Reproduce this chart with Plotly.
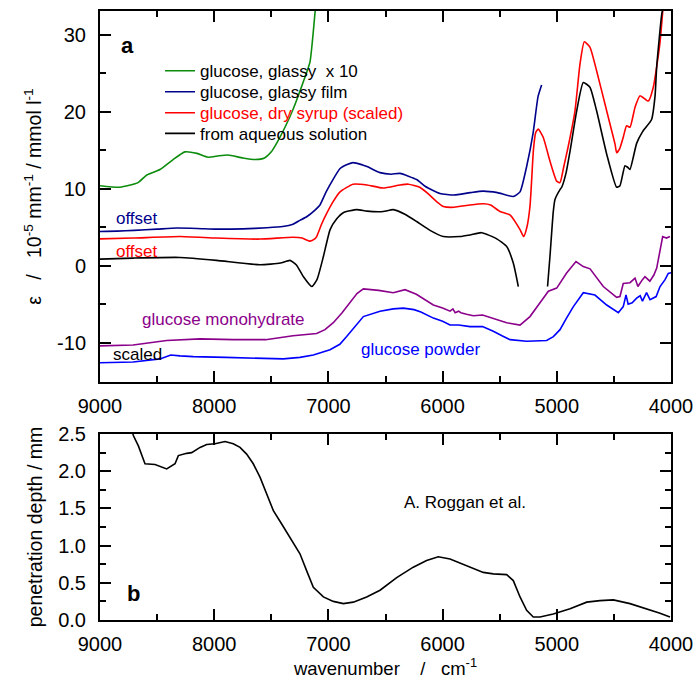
import plotly.graph_objects as go

# ---------------- data ----------------
green_w = [9000, 8825, 8667, 8590, 8475, 8360, 8256, 8151, 8054, 7960, 7879, 7748, 7640, 7560,
           7500, 7450, 7380, 7310, 7222, 7161, 7117, 7105]
green_y = [10.4, 10.2, 10.8, 11.8, 12.5, 13.8, 14.8, 14.6, 14.1, 14.3, 14.4, 14.0, 13.8, 14.0,
           14.8, 16.0, 18.0, 20.3, 23.8, 26.5, 32.9, 34.5]

navy_w = [9000, 8850, 8700, 8501, 8330, 8150, 7976, 7750, 7538, 7400, 7310, 7249, 7187, 7120,
          7074, 7020, 6960, 6900, 6872, 6785, 6700, 6662, 6548, 6450, 6373, 6227, 6150, 6023,
          5900, 5760, 5645, 5520, 5381, 5322, 5264, 5208, 5164, 5133]
navy_y = [4.46, 4.5, 4.6, 4.76, 4.9, 4.85, 4.76, 4.8, 4.94, 5.1, 5.4, 5.9, 6.4, 7.2,
          7.9, 9.6, 11.2, 12.6, 12.9, 13.4, 13.1, 12.9, 12.1, 11.9, 12.0, 11.2, 10.3, 9.4,
          9.2, 9.5, 9.7, 9.5, 9.0, 9.6, 12.9, 17.2, 22.0, 23.5]

red_w = [9000, 8710, 8300, 7980, 7599, 7310, 7230, 7161, 7120, 7103, 7060, 7015, 6960, 6898,
         6784, 6662, 6522, 6373, 6300, 6200, 6130, 6050, 5994, 5900, 5760, 5644, 5580, 5497,
         5410, 5322, 5290, 5262, 5235, 5220, 5205, 5185, 5162, 5119, 5060, 5001, 4972, 4940,
         4900, 4841, 4797, 4759, 4710, 4651, 4563, 4490, 4476, 4450, 4418, 4389, 4359, 4315,
         4271, 4199, 4155, 4098, 4070]
red_y = [3.5, 3.6, 3.8, 3.6, 3.47, 3.7, 3.6, 3.2, 3.5, 3.8, 5.4, 6.8, 8.3, 9.6,
         10.6, 10.5, 10.1, 10.5, 10.6, 10.2, 9.4, 8.3, 7.7, 7.6, 7.9, 8.05, 7.9, 7.05,
         6.6, 4.7, 3.8, 5.0, 7.7, 11.2, 15.0, 17.3, 17.75, 16.7, 13.6, 11.0, 10.8, 12.8,
         15.5, 20.1, 26.2, 29.1, 28.4, 25.3, 20.1, 15.8, 14.7, 15.2, 16.7, 18.2, 18.0, 20.6,
         22.1, 21.4, 23.2, 28.8, 33.5]

black_w = [9000, 8710, 8300, 7980, 7599, 7420, 7336, 7280, 7220, 7146, 7100, 7044, 6985, 6927,
           6870, 6752, 6662, 6520, 6432, 6330, 6227, 6110, 5994, 5848, 5760, 5658, 5526, 5439,
           5381, 5337, None, 5081, 5060, 5031, 5016, 4972, 4957, 4920, 4884, 4826, 4768, 4710,
           4651, 4563, 4476, 4447, 4403, 4380, 4360, 4301, 4250, 4170, 4140, 4125, 4080, 4060]
black_y = [0.87, 1.0, 1.08, 0.7, 0.13, 0.35, 0.7, 0.1, -1.4, -2.7, -1.8, 1.2, 4.7, 6.1,
           6.9, 7.3, 7.1, 7.05, 7.3, 6.7, 5.75, 4.6, 3.8, 3.8, 4.0, 4.3, 3.5, 2.5,
           0.35, -2.7, None, -2.7, 1.2, 7.0, 8.6, 9.9, 10.2, 12.0, 14.9, 20.1, 23.8, 23.2,
           20.1, 14.5, 10.2, 10.4, 13.0, 12.8, 12.5, 15.9, 17.4, 19.0, 22.0, 25.9, 32.8, 34.0]

purple_w = [9000, 8710, 8416, 8124, 7832, 7550, 7310, 7103, 7030, 6957, 6880, 6811, 6750, 6694,
            6560, 6432, 6329, 6230, 6150, 6081, 6000, 5935, 5910, 5890, 5860, 5840, 5790, 5731,
            5650, 5570, 5439, 5322, 5235, 5147, 5074, 5001, 4914, 4832, 4768, 4709, 4650, 4593,
            4476, 4447, 4418, 4359, 4315, 4290, 4250, 4228, 4185, 4150, 4125, 4095, 4073, 4040,
            4009]
purple_y = [-10.4, -10.3, -9.7, -9.5, -9.6, -9.6, -9.1, -8.8, -8.3, -7.4, -6.1, -4.8, -3.6, -3.0,
            -3.2, -3.5, -3.1, -3.7, -4.4, -5.1, -5.5, -5.9, -5.6, -6.1, -5.9, -6.1, -6.3, -6.5,
            -6.4, -6.8, -7.4, -7.7, -6.6, -4.8, -3.3, -2.9, -0.95, 0.56, -0.1, -0.4, -1.5, -2.7,
            -4.1, -4.0, -2.3, -2.2, -1.6, -2.7, -1.8, -1.4, -2.0, -1.2, -0.3, 2.0, 3.8, 3.6,
            3.8]

blue_w = [9000, 8710, 8475, 8380, 8300, 8183, 7900, 7640, 7395, 7250, 7132, 6986, 6900, 6840,
          6760, 6694, 6548, 6432, 6344, 6250, 6190, 6081, 6000, 5935, 5860, 5760, 5650, 5556,
          5480, 5410, 5264, 5089, 5030, 4972, 4915, 4855, 4768, 4666, 4563, 4461, 4418, 4394,
          4375, 4340, 4301, 4270, 4250, 4214, 4184, 4130, 4096, 4052, 4024, 4000]
blue_y = [-12.6, -12.5, -12.1, -11.6, -11.7, -11.8, -11.9, -12.0, -12.1, -11.9, -11.6, -10.9, -10.2, -9.2,
          -7.8, -6.6, -5.9, -5.6, -5.5, -5.7, -6.0, -6.8, -7.2, -7.7, -7.7, -7.9, -7.9, -8.5,
          -9.1, -9.6, -9.8, -9.7, -9.2, -8.3, -6.8, -5.3, -3.5, -3.8, -5.1, -6.1, -5.3, -3.8,
          -5.0, -4.8, -4.2, -3.9, -4.6, -3.5, -4.4, -4.0, -2.7, -1.8, -1.0, -0.9]

depth_w = [8730, 8708, 8664, 8606, 8518, 8416, 8343, 8314, 8241, 8197, 8124, 8066, 7993, 7905,
           7833, 7774, 7716, 7658, 7599, 7540, 7482, 7409, 7336, 7249, 7190, 7132, 7044, 6957,
           6869, 6782, 6665, 6548, 6402, 6257, 6140, 6038, 5935, 5790, 5644, 5556, 5439, 5381,
           5322, 5264, 5206, 5147, 5031, 4884, 4738, 4622, 4505, 4359, 4213, 4096, 4009]
depth_y = [2.62, 2.48, 2.34, 2.10, 2.09, 2.03, 2.10, 2.21, 2.24, 2.25, 2.32, 2.36, 2.37, 2.40,
           2.37, 2.32, 2.23, 2.10, 1.92, 1.69, 1.47, 1.29, 1.11, 0.89, 0.66, 0.44, 0.31, 0.25,
           0.22, 0.24, 0.31, 0.40, 0.57, 0.71, 0.80, 0.85, 0.82, 0.73, 0.64, 0.62, 0.61, 0.53,
           0.31, 0.13, 0.04, 0.04, 0.08, 0.15, 0.24, 0.26, 0.27, 0.22, 0.15, 0.09, 0.04]

top_ticks = [-10, 0, 10, 20, 30]
top_ticktext = ["-10", "0", "10", "20", "30"]

names = ["glucose, glassy  x 10", "glucose, glassy film",
         "glucose, dry syrup (scaled)", "from aqueous solution"]

GREEN, NAVY, RED, BLACK = "#0c8c0c", "#00008b", "#ff0000", "#000000"
PURPLE, BLUE = "#8b008b", "#0000ff"
FONT = "Liberation Sans, Arial, sans-serif"
SP = "&nbsp;"

fig = go.Figure()
lw = 1.6
sm = dict(shape="spline", smoothing=0.5)
fig.add_trace(go.Scatter(x=green_w, y=green_y, mode="lines", name=names[0].replace("  ", SP + SP),
                         line=dict(color=GREEN, width=lw, **sm), legend="legend"))
fig.add_trace(go.Scatter(x=navy_w, y=navy_y, mode="lines", name=names[1],
                         line=dict(color=NAVY, width=lw, **sm), legend="legend2"))
fig.add_trace(go.Scatter(x=red_w, y=red_y, mode="lines", name=names[2],
                         line=dict(color=RED, width=lw, **sm), legend="legend3"))
fig.add_trace(go.Scatter(x=black_w, y=black_y, mode="lines", name=names[3],
                         line=dict(color=BLACK, width=lw, **sm), legend="legend4",
                         connectgaps=False))
fig.add_trace(go.Scatter(x=purple_w, y=purple_y, mode="lines", showlegend=False,
                         line=dict(color=PURPLE, width=lw)))
fig.add_trace(go.Scatter(x=blue_w, y=blue_y, mode="lines", showlegend=False,
                         line=dict(color=BLUE, width=lw)))
fig.add_trace(go.Scatter(x=depth_w, y=depth_y, mode="lines", showlegend=False,
                         line=dict(color=BLACK, width=lw), xaxis="x2", yaxis="y2"))

axis_common = dict(showline=True, linecolor="black", linewidth=2, mirror="ticks",
                   ticks="inside", ticklen=11, tickwidth=2, tickcolor="black",
                   showgrid=False, zeroline=False, automargin=False,
                   tickfont=dict(size=20, color="black", family=FONT))
minor_common = dict(ticks="inside", ticklen=6, tickwidth=2, tickcolor="black")

fig.update_layout(
    width=700, height=691,
    margin=dict(l=100, r=29, t=11, b=71, autoexpand=False),
    paper_bgcolor="white", plot_bgcolor="white",
    font=dict(family=FONT, color="black", size=17),
    xaxis=dict(range=[9000, 4000], dtick=1000, anchor="y", ticklabelstandoff=5,
               minor=dict(dtick=500, **minor_common), **axis_common),
    yaxis=dict(range=[-15.1, 33.1], domain=[0.3908, 1.0], anchor="x",
               tickvals=top_ticks, ticktext=top_ticktext, ticklabelstandoff=8,
               minor=dict(dtick=5, **minor_common),
               title=dict(text="ε" + SP * 3 + "/" + SP * 3 +
                          "10<sup>-5</sup> mm<sup>-1</sup> / mmol l<sup>-1</sup>",
                          font=dict(size=19.5), standoff=10),
               **axis_common),
    xaxis2=dict(range=[9000, 4000], dtick=1000, anchor="y2", ticklabelstandoff=5,
                minor=dict(dtick=500, **minor_common),
                title=dict(text="wavenumber" + SP * 4 + "/" + SP * 3 + "cm<sup>-1</sup>",
                           font=dict(size=18.5), standoff=8),
                **axis_common),
    yaxis2=dict(range=[0, 2.5], domain=[0, 0.3054], anchor="x2", dtick=0.5, tickformat=".1f",
                ticklabelstandoff=8, minor=dict(dtick=0.25, **minor_common),
                title=dict(text="penetration depth / mm", font=dict(size=19.5), standoff=10),
                **axis_common),
)

leg_common = dict(xanchor="left", yanchor="top", bgcolor="rgba(0,0,0,0)", borderwidth=0,
                  x=0.1051)
fig.update_layout(
    legend=dict(y=0.9307, font=dict(size=17, color="black", family=FONT), **leg_common),
    legend2=dict(y=0.8963, font=dict(size=17, color="black", family=FONT), **leg_common),
    legend3=dict(y=0.8617, font=dict(size=17, color=RED, family=FONT), **leg_common),
    legend4=dict(y=0.8279, font=dict(size=17, color="black", family=FONT), **leg_common),
)

annos = [
    dict(x=8755, y=28.6, xref="x", yref="y", text="<b>a</b>", font=dict(size=22, color="black")),
    dict(x=8680, y=6.1, xref="x", yref="y", text="offset", font=dict(size=17, color=NAVY)),
    dict(x=8680, y=1.9, xref="x", yref="y", text="offset", font=dict(size=17, color=RED)),
    dict(x=7919, y=-6.95, xref="x", yref="y", text="glucose monohydrate",
         font=dict(size=17, color=PURPLE)),
    dict(x=8671, y=-11.5, xref="x", yref="y", text="scaled", font=dict(size=17, color="black")),
    dict(x=6193, y=-10.9, xref="x", yref="y", text="glucose powder", font=dict(size=17, color=BLUE)),
    dict(x=5806, y=1.58, xref="x2", yref="y2", text="A. Roggan et al.",
         font=dict(size=17, color="black")),
    dict(x=8708, y=0.35, xref="x2", yref="y2", text="<b>b</b>", font=dict(size=22, color="black")),
]
for a in annos:
    a.update(showarrow=False, xanchor="center", yanchor="middle")
    a["font"]["family"] = FONT
    fig.add_annotation(**a)

fig.write_html("out.html", config={"displayModeBar": False},
               post_script="document.body.style.margin='0';")
